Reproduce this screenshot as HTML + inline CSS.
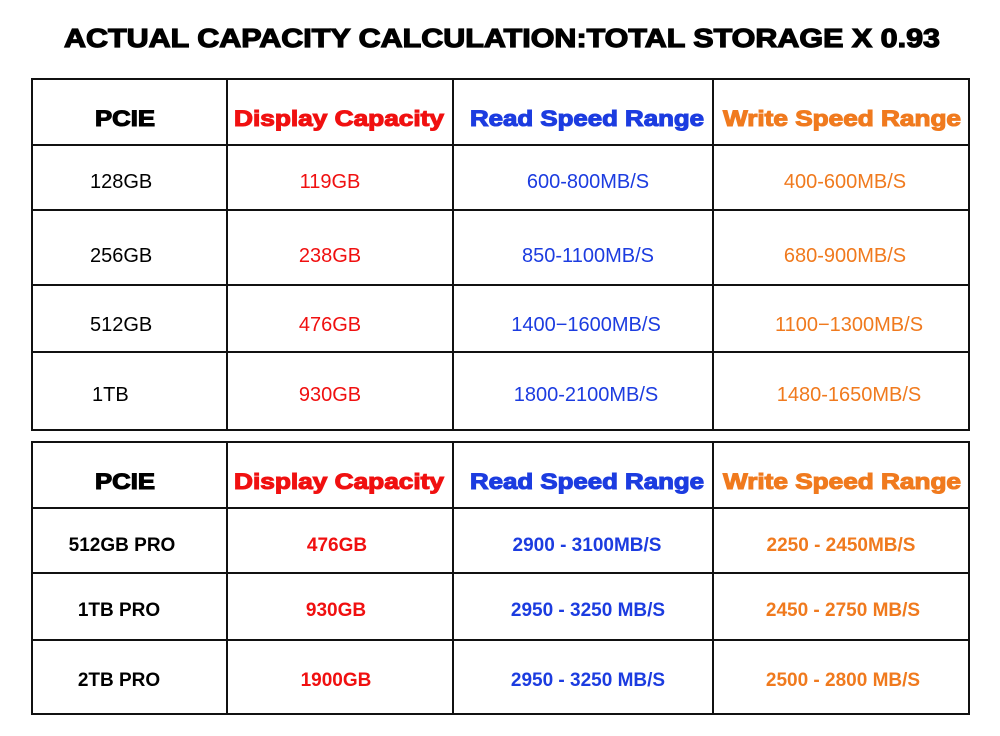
<!DOCTYPE html>
<html><head><meta charset="utf-8"><style>
html,body{margin:0;padding:0;background:#fff;}
svg{display:block;}
.h{font-family:"Liberation Sans",Arial,sans-serif;font-weight:bold;font-size:22px;stroke-width:1.1px;}
.b{font-family:"Liberation Sans",Arial,sans-serif;font-size:20px;}
.b2{font-family:"Liberation Sans",Arial,sans-serif;font-size:19px;font-weight:bold;}
.red{fill:#f01010}.blue{fill:#1c3ce0}.org{fill:#f07a1e}
.h{stroke:#000}.h.red{stroke:#f01010}.h.blue{stroke:#1c3ce0}.h.org{stroke:#f07a1e}
</style></head><body>
<svg width="1000" height="736" viewBox="0 0 1000 736" xmlns="http://www.w3.org/2000/svg">
<text x="502" y="47" text-anchor="middle" font-family="Liberation Sans,Arial,sans-serif" font-weight="bold" font-size="26" stroke="#000" stroke-width="1.2" textLength="876" lengthAdjust="spacingAndGlyphs">ACTUAL CAPACITY CALCULATION:TOTAL STORAGE X 0.93</text>

<g stroke="#111" stroke-width="2" fill="none">
<rect x="32" y="79" width="937" height="351"/>
<line x1="32" y1="145" x2="969" y2="145"/><line x1="32" y1="210" x2="969" y2="210"/>
<line x1="32" y1="285" x2="969" y2="285"/><line x1="32" y1="352" x2="969" y2="352"/>
<line x1="227" y1="79" x2="227" y2="430"/><line x1="453" y1="79" x2="453" y2="430"/><line x1="713" y1="79" x2="713" y2="430"/>
</g>
<g stroke="#111" stroke-width="2" fill="none">
<rect x="32" y="442" width="937" height="272"/>
<line x1="32" y1="508" x2="969" y2="508"/><line x1="32" y1="573" x2="969" y2="573"/><line x1="32" y1="640" x2="969" y2="640"/>
<line x1="227" y1="442" x2="227" y2="714"/><line x1="453" y1="442" x2="453" y2="714"/><line x1="713" y1="442" x2="713" y2="714"/>
</g>

<g>
<text class="h" x="125" y="126" text-anchor="middle" textLength="60" lengthAdjust="spacingAndGlyphs">PCIE</text>
<text class="h red" x="339" y="126" text-anchor="middle" textLength="210" lengthAdjust="spacingAndGlyphs">Display Capacity</text>
<text class="h blue" x="587" y="126" text-anchor="middle" textLength="234" lengthAdjust="spacingAndGlyphs">Read Speed Range</text>
<text class="h org" x="842" y="126" text-anchor="middle" textLength="238" lengthAdjust="spacingAndGlyphs">Write Speed Range</text>
</g>
<g>
<text class="b" x="90" y="188">128GB</text>
<text class="b red" x="330" y="188" text-anchor="middle">119GB</text>
<text class="b blue" x="588" y="188" text-anchor="middle">600-800MB/S</text>
<text class="b org" x="845" y="188" text-anchor="middle">400-600MB/S</text>

<text class="b" x="90" y="262">256GB</text>
<text class="b red" x="330" y="262" text-anchor="middle">238GB</text>
<text class="b blue" x="588" y="262" text-anchor="middle">850-1100MB/S</text>
<text class="b org" x="845" y="262" text-anchor="middle">680-900MB/S</text>

<text class="b" x="90" y="331">512GB</text>
<text class="b red" x="330" y="331" text-anchor="middle">476GB</text>
<text class="b blue" x="586" y="331" text-anchor="middle">1400−1600MB/S</text>
<text class="b org" x="849" y="331" text-anchor="middle">1100−1300MB/S</text>

<text class="b" x="92" y="401">1TB</text>
<text class="b red" x="330" y="401" text-anchor="middle">930GB</text>
<text class="b blue" x="586" y="401" text-anchor="middle">1800-2100MB/S</text>
<text class="b org" x="849" y="401" text-anchor="middle">1480-1650MB/S</text>
</g>

<g>
<text class="h" x="125" y="489" text-anchor="middle" textLength="60" lengthAdjust="spacingAndGlyphs">PCIE</text>
<text class="h red" x="339" y="489" text-anchor="middle" textLength="210" lengthAdjust="spacingAndGlyphs">Display Capacity</text>
<text class="h blue" x="587" y="489" text-anchor="middle" textLength="234" lengthAdjust="spacingAndGlyphs">Read Speed Range</text>
<text class="h org" x="842" y="489" text-anchor="middle" textLength="238" lengthAdjust="spacingAndGlyphs">Write Speed Range</text>
</g>
<g>
<text class="b2" x="122" y="551" text-anchor="middle">512GB PRO</text>
<text class="b2 red" x="337" y="551" text-anchor="middle">476GB</text>
<text class="b2 blue" x="587" y="551" text-anchor="middle">2900 - 3100MB/S</text>
<text class="b2 org" x="841" y="551" text-anchor="middle">2250 - 2450MB/S</text>

<text class="b2" x="119" y="616" text-anchor="middle">1TB PRO</text>
<text class="b2 red" x="336" y="616" text-anchor="middle">930GB</text>
<text class="b2 blue" x="588" y="616" text-anchor="middle">2950 - 3250 MB/S</text>
<text class="b2 org" x="843" y="616" text-anchor="middle">2450 - 2750 MB/S</text>

<text class="b2" x="119" y="686" text-anchor="middle">2TB PRO</text>
<text class="b2 red" x="336" y="686" text-anchor="middle">1900GB</text>
<text class="b2 blue" x="588" y="686" text-anchor="middle">2950 - 3250 MB/S</text>
<text class="b2 org" x="843" y="686" text-anchor="middle">2500 - 2800 MB/S</text>
</g>
</svg>
</body></html>
